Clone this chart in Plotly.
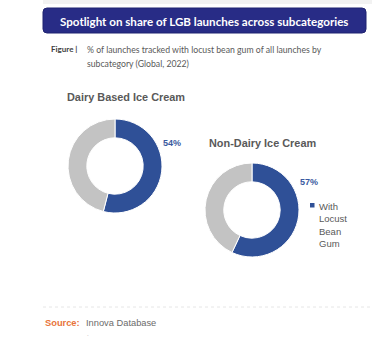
import plotly.graph_objects as go

W, H = 372, 346

# data
categories = ["Dairy Based Ice Cream", "Non-Dairy Ice Cream"]
with_lbg = [54, 57]
slice_labels = ["With Locust Bean Gum", "Other"]
legend_label = "With<br>Locust<br>Bean<br>Gum"

BLUE = "#2f5097"
GREY = "#c3c3c3"
TXT = "#595959"

def px(x):
    return x / W

def py(y):
    return 1 - y / H

fig = go.Figure()

# donut geometry (pixel centre, radius)
geo = [(115, 166, 47), (252, 210, 47)]
for cat, v, (cx, cy, r) in zip(categories, with_lbg, geo):
    fig.add_trace(go.Pie(
        labels=slice_labels,
        values=[v, 100 - v],
        sort=False,
        direction="clockwise",
        rotation=0,
        hole=0.6,
        marker=dict(colors=[BLUE, GREY], line=dict(color="white", width=1)),
        textinfo="none",
        hoverinfo="skip",
        showlegend=False,
        domain=dict(x=[px(cx - r), px(cx + r)], y=[py(cy + r), py(cy - r)]),
    ))

shapes = []
# top light band
shapes.append(dict(type="rect", xref="paper", yref="paper", x0=px(43), x1=1, y0=py(4), y1=1,
                   fillcolor="#f2f2f2", line_width=0, layer="below"))
# banner rounded rect
x0, x1, y0, y1, rr = 43, 366, 8, 33, 4
path = (f"M {px(x0+rr)},{py(y0)} L {px(x1-rr)},{py(y0)} Q {px(x1)},{py(y0)} {px(x1)},{py(y0+rr)} "
        f"L {px(x1)},{py(y1-rr)} Q {px(x1)},{py(y1)} {px(x1-rr)},{py(y1)} "
        f"L {px(x0+rr)},{py(y1)} Q {px(x0)},{py(y1)} {px(x0)},{py(y1-rr)} "
        f"L {px(x0)},{py(y0+rr)} Q {px(x0)},{py(y0)} {px(x0+rr)},{py(y0)} Z")
shapes.append(dict(type="path", xref="paper", yref="paper", path=path,
                   fillcolor="#282c86", line=dict(color="#1f2370", width=1)))
# source separator
shapes.append(dict(type="line", xref="paper", yref="paper", x0=px(43), x1=1, y0=py(307), y1=py(307),
                   line=dict(color="#e6e6e6", width=1, dash="dot")))
# legend marker
shapes.append(dict(type="rect", xref="paper", yref="paper", x0=px(310), x1=px(314.5),
                   y0=py(207.5), y1=py(203), fillcolor=BLUE, line_width=0))

ann = []
def add(x, y, text, size, color, xanchor="left", family="Liberation Sans, Arial", bold=False):
    if bold:
        text = f"<b>{text}</b>"
    ann.append(dict(x=px(x), y=py(y), xref="paper", yref="paper", text=text, showarrow=False,
                    xanchor=xanchor, yanchor="middle", align="left",
                    font=dict(size=size, color=color, family=family)))

add(204, 21, "Spotlight on share of LGB launches across subcategories", 11.6, "white",
    xanchor="center", family="Lato, Open Sans", bold=True)
add(49, 49, "Figure |", 8, "#404040", family="Lato, Open Sans", bold=True)
add(85, 49, "% of launches tracked with locust bean gum of all launches by", 8.7, "#595959",
    family="Lato, Open Sans")
add(85, 63, "subcategory (Global, 2022)", 8.7, "#595959", family="Lato, Open Sans")

add(126, 97, categories[0], 10.9, TXT, xanchor="center", bold=True)
add(262, 143, categories[1], 10.9, TXT, xanchor="center", bold=True)
add(161, 143, f"{with_lbg[0]}%", 9, "#3a5aa0", bold=True)
add(298, 182, f"{with_lbg[1]}%", 9, "#3a5aa0", bold=True)

ann.append(dict(x=px(317), y=py(199), xref="paper", yref="paper", text=legend_label,
                showarrow=False, xanchor="left", yanchor="top", align="left",
                font=dict(size=9.5, color=TXT, family="Liberation Sans, Arial")))

add(43, 323, "Source:", 9.3, "#e8743b", bold=True)
add(84, 323, "Innova Database", 9.3, "#6b6b6b")
add(85, 334, ".", 6, "#999999")

fig.update_layout(width=W, height=H, margin=dict(l=0, r=0, t=0, b=0),
                  paper_bgcolor="white", plot_bgcolor="white",
                  shapes=shapes, annotations=ann, showlegend=False)

fig.write_html("out.html")
